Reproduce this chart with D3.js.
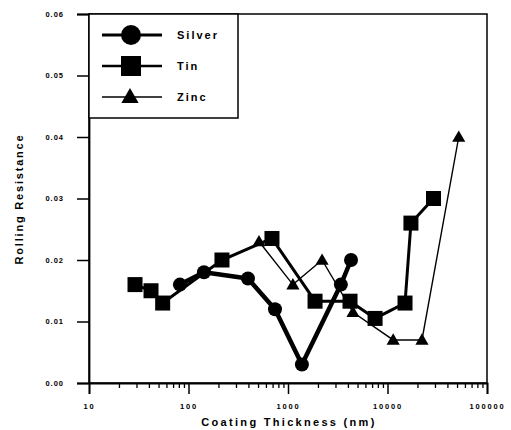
<!DOCTYPE html>
<html><head><meta charset="utf-8">
<script src="https://cdn.jsdelivr.net/npm/d3@7"></script>
<style>
body{margin:0;background:#fff;}
text{font-family:"Liberation Sans",Arial,sans-serif;font-weight:bold;fill:#000;}
</style></head>
<body><svg id="c" width="511" height="430"></svg>
<script>
const silverX = [82,143,396,740,1380,3400,4300];
const silverY = [0.016,0.018,0.017,0.012,0.003,0.016,0.020];
const tinX = [29,42,55,217,690,1870,4200,7500,15000,17200,29000];
const tinY = [0.016,0.015,0.013,0.020,0.0235,0.0133,0.0133,0.0105,0.013,0.026,0.030];
const zincX = [511,1120,2200,4500,11400,22200,52000];
const zincY = [0.023,0.016,0.020,0.0115,0.007,0.007,0.040];
const yTicks = [0,0.01,0.02,0.03,0.04,0.05,0.06];
const xTicks = [10,100,1000,10000,100000];
const seriesNames = ["Silver","Tin","Zinc"];

const svg = d3.select("#c");
const x = d3.scaleLog().domain([10,100000]).range([89,487]);
const y = d3.scaleLinear().domain([0,0.06]).range([383,14]);

// frame
svg.append("rect").attr("x",89).attr("y",14).attr("width",398).attr("height",369)
  .attr("fill","none").attr("stroke","#000").attr("stroke-width",1.5);

// y axis
const ya = svg.append("g").attr("transform","translate(89,0)")
  .call(d3.axisLeft(y).tickValues(yTicks).tickFormat(d3.format(".2f")).tickSize(12).tickPadding(13));
ya.select(".domain").attr("stroke-width",1.8);
ya.selectAll(".tick line").attr("stroke-width",1.5);
ya.selectAll("text").style("font-size","7.5px").style("letter-spacing","1px").attr("font-family",null);

// x axis
const minor = [];
for (let e=1;e<5;e++) for (let m=2;m<10;m++) minor.push(m*Math.pow(10,e));
const xm = svg.append("g").attr("transform","translate(0,383)")
  .call(d3.axisBottom(x).tickValues(minor).tickFormat("").tickSize(5));
xm.select(".domain").remove();
xm.selectAll(".tick line").attr("stroke-width",1.3);
const xa = svg.append("g").attr("transform","translate(0,383)")
  .call(d3.axisBottom(x).tickValues(xTicks).tickFormat(d3.format("d")).tickSize(11).tickPadding(10));
xa.select(".domain").attr("stroke-width",1.8);
xa.selectAll(".tick line").attr("stroke-width",1.5);
xa.selectAll("text").style("font-size","7.5px").style("letter-spacing","1.8px").attr("font-family",null);

// titles
svg.append("text").attr("x",289).attr("y",426).attr("text-anchor","middle")
  .style("font-size","11px").style("letter-spacing","2.3px").text("Coating Thickness (nm)");
svg.append("text").attr("transform","translate(23,199) rotate(-90)").attr("text-anchor","middle")
  .style("font-size","11px").style("letter-spacing","1.8px").text("Rolling Resistance");

const line = d3.line().x(d=>x(d[0])).y(d=>y(d[1]));
function pts(xs,ys){return xs.map((v,i)=>[v,ys[i]]);}
const tri = d3.symbol().type(d3.symbolTriangle);

// zinc
const zd = pts(zincX,zincY);
svg.append("path").attr("d",line(zd)).attr("fill","none").attr("stroke","#000").attr("stroke-width",1.4);
svg.selectAll(".z").data(zd).enter().append("path").attr("d",tri.size(75)())
  .attr("transform",d=>`translate(${x(d[0])},${y(d[1])+1})`).attr("fill","#000");
// tin
const td = pts(tinX,tinY);
svg.append("path").attr("d",line(td)).attr("fill","none").attr("stroke","#000").attr("stroke-width",3);
svg.selectAll(".t").data(td).enter().append("rect")
  .attr("x",d=>x(d[0])-7.5).attr("y",d=>y(d[1])-7.5).attr("width",15).attr("height",15).attr("fill","#000");
// silver
const sd = pts(silverX,silverY);
svg.append("path").attr("d",line(sd)).attr("fill","none").attr("stroke","#000").attr("stroke-width",4.5).attr("stroke-linejoin","round");
svg.selectAll(".s").data(sd).enter().append("circle")
  .attr("cx",d=>x(d[0])).attr("cy",d=>y(d[1])).attr("r",7).attr("fill","#000");

// legend
const lg = svg.append("g");
lg.append("rect").attr("x",89).attr("y",14).attr("width",149).attr("height",104)
  .attr("fill","#fff").attr("stroke","#000").attr("stroke-width",1.5);
const ly = [35,66,97];
const lw = [3,2.5,1.4];
seriesNames.forEach((n,i)=>{
  lg.append("line").attr("x1",102).attr("x2",162).attr("y1",ly[i]).attr("y2",ly[i])
    .attr("stroke","#000").attr("stroke-width",lw[i]);
  if(i===0) lg.append("circle").attr("cx",131).attr("cy",ly[i]).attr("r",10).attr("fill","#000");
  if(i===1) lg.append("rect").attr("x",121).attr("y",ly[i]-10).attr("width",20).attr("height",20).attr("fill","#000");
  if(i===2) lg.append("path").attr("d",tri.size(130)()).attr("transform",`translate(130,${ly[i]+1})`).attr("fill","#000");
  lg.append("text").attr("x",177).attr("y",ly[i]+4).style("font-size","11px").style("letter-spacing","2px").text(n);
});
</script></body></html>
